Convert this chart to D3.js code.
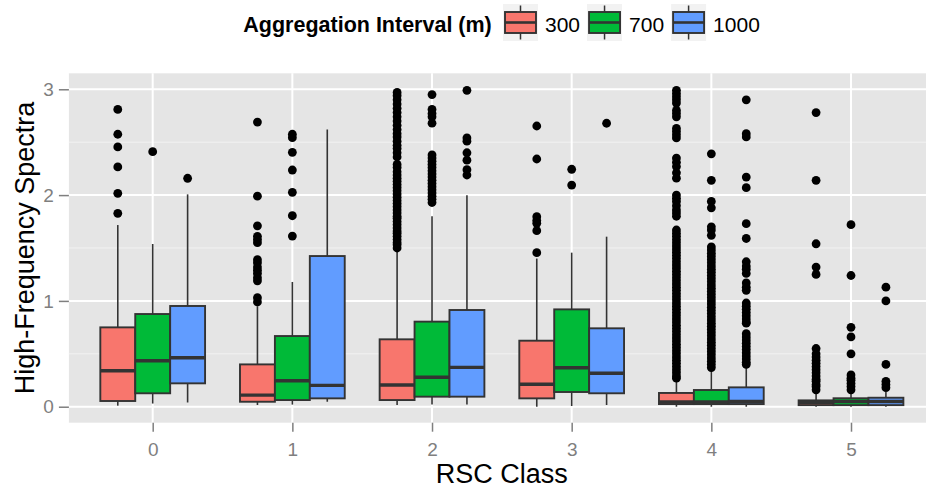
<!DOCTYPE html>
<html><head><meta charset="utf-8">
<script src="https://cdn.jsdelivr.net/npm/d3@7"></script>
<style>body{margin:0;background:#fff} svg{display:block}</style>
</head><body><svg id="chart" width="926" height="493"></svg>
<script>
const categories = ["0","1","2","3","4","5"];
const seriesNames = ["300","700","1000"];
const seriesColors = ["#F8766D","#00BA38","#619CFF"];
const yTicks = [0,1,2,3];
const legendTitle = "Aggregation Interval (m)";
const xTitle = "RSC Class";
const yTitle = "High-Frequency Spectra";

// [lower whisker, Q1, median, Q3, upper whisker] per RSC class
const box300 = [[0.01,0.054,0.34,0.75,1.717],[0.016,0.047,0.11,0.40,0.95],[0.016,0.063,0.205,0.637,1.465],[0.0,0.079,0.212,0.624,1.40],[0.0,0.025,0.045,0.13,0.26],[0.0,0.015,0.04,0.06,0.14]];
const box700 = [[0.03,0.127,0.435,0.876,1.538],[0.02,0.063,0.246,0.668,1.179],[0.02,0.095,0.278,0.804,1.80],[0.007,0.139,0.369,0.92,1.456],[0.0,0.025,0.045,0.158,0.35],[0.0,0.015,0.05,0.08,0.14]];
const box1000 = [[0.04,0.221,0.463,0.952,2.007],[0.047,0.079,0.202,1.424,2.62],[0.02,0.095,0.372,0.914,1.998],[0.016,0.127,0.316,0.741,1.607],[0.0,0.025,0.05,0.183,0.39],[0.0,0.015,0.05,0.085,0.14]];

const out300 = [
 [2.81,2.575,2.455,2.266,2.017,1.828],
 [2.69,1.99,1.71,1.61,1.58,1.55,1.39,1.36,1.32,1.29,1.26,1.22,1.19,1.03,0.99],
 [1.50,1.53,1.55,1.58,1.61,1.64,1.66,1.69,1.72,1.75,1.78,1.80,1.83,1.86,1.89,1.92,1.95,1.98,2.01,2.04,2.07,2.10,2.13,2.16,2.19,2.22,2.26,2.29,2.36,2.40,2.44,2.47,2.51,2.55,2.58,2.62,2.66,2.70,2.74,2.78,2.82,2.86,2.90,2.94,2.97],
 [2.653,2.341,1.796,1.76,1.733,1.664,1.456],
 [2.99,2.96,2.93,2.90,2.87,2.80,2.77,2.74,2.63,2.60,2.57,2.54,2.35,2.31,2.27,2.21,2.16,2.00,1.97,1.94,1.90,1.86,1.83,1.80,1.67,1.64,1.61,1.58,1.55,1.52,1.49,1.46,1.43,1.40,1.37,1.34,1.31,1.28,1.25,1.22,1.19,1.16,1.13,1.10,1.07,1.04,1.01,0.98,0.95,0.92,0.89,0.86,0.83,0.80,0.77,0.74,0.71,0.68,0.65,0.62,0.59,0.56,0.53,0.50,0.47,0.44,0.41,0.38,0.35,0.32,0.29,0.27],
 [2.78,2.14,1.54,1.32,1.25,0.55,0.50,0.47,0.44,0.41,0.38,0.35,0.32,0.29,0.26,0.24,0.21,0.19,0.16]
];
const out700 = [
 [2.41],
 [2.575,2.543,2.404,2.237,2.026,1.805,1.613],
 [2.95,2.81,2.77,2.74,2.68,2.38,2.35,2.32,2.29,2.26,2.23,2.20,2.17,2.14,2.11,2.08,2.05,2.02,1.99,1.96,1.93],
 [2.244,2.095],
 [2.39,2.14,1.94,1.88,1.70,1.67,1.62,1.51,1.48,1.45,1.42,1.39,1.36,1.33,1.30,1.27,1.24,1.21,1.18,1.15,1.12,1.09,1.06,1.03,1.00,0.97,0.94,0.91,0.88,0.85,0.82,0.79,0.76,0.73,0.70,0.67,0.64,0.61,0.58,0.55,0.52,0.49,0.46,0.43,0.40,0.37],
 [1.72,1.24,0.75,0.66,0.50,0.30,0.27,0.25,0.22,0.19,0.16]
];
const out1000 = [
 [2.159],
 [],
 [2.99,2.54,2.51,2.40,2.33,2.24,2.19],
 [2.679],
 [2.90,2.58,2.55,2.17,2.07,1.73,1.59,1.37,1.33,1.30,1.26,1.17,1.13,1.10,0.98,0.95,0.92,0.89,0.86,0.83,0.80,0.79,0.69,0.66,0.63,0.60,0.57,0.54,0.51,0.48,0.45,0.42,0.40],
 [1.13,1.00,0.40,0.24,0.21,0.18]
];

const boxes = [box300, box700, box1000];
const outs = [out300, out700, out1000];

const svg = d3.select("#chart");
const W = 926, H = 493;
const P = {left: 68.9, right: 934.8, top: 73.3, bottom: 422.7};
const FONT = "'Liberation Sans', Arial, Helvetica, sans-serif";

svg.append("rect").attr("width", W).attr("height", H).attr("fill", "#fff");

const x = d3.scalePoint().domain(categories).range([P.left, P.right]).padding(0.6);
const y = d3.scaleLinear().domain([-0.151, 3.151]).range([P.bottom, P.top]);
const groupW = x.step() * 0.75;
const dodge = d3.scaleBand().domain(seriesNames).range([-groupW/2, groupW/2]).padding(0);
const color = d3.scaleOrdinal().domain(seriesNames).range(seriesColors);

// panel
svg.append("rect").attr("x", P.left).attr("y", P.top)
  .attr("width", P.right - P.left).attr("height", P.bottom - P.top).attr("fill", "#E5E5E5");

const grid = svg.append("g");
const minorTicks = [0.5, 1.5, 2.5];
grid.selectAll("line.minor").data(minorTicks).join("line")
  .attr("x1", P.left).attr("x2", P.right)
  .attr("y1", d => y(d)).attr("y2", d => y(d))
  .attr("stroke", "#F2F2F2").attr("stroke-width", 1);
grid.selectAll("line.majy").data(yTicks).join("line")
  .attr("x1", P.left).attr("x2", P.right)
  .attr("y1", d => y(d)).attr("y2", d => y(d))
  .attr("stroke", "#fff").attr("stroke-width", 2);
grid.selectAll("line.majx").data(categories).join("line")
  .attr("y1", P.top).attr("y2", P.bottom)
  .attr("x1", d => x(d)).attr("x2", d => x(d))
  .attr("stroke", "#fff").attr("stroke-width", 2);

// boxes
const OUTLINE = "#333333";
seriesNames.forEach((s, si) => {
  const g = svg.append("g");
  const bw = dodge.bandwidth();
  categories.forEach((c, ci) => {
    const st = boxes[si][ci];
    const cx = x(c) + dodge(s) + bw/2;
    const x0 = x(c) + dodge(s);
    g.append("line").attr("x1", cx).attr("x2", cx).attr("y1", y(st[4])).attr("y2", y(st[3]))
      .attr("stroke", OUTLINE).attr("stroke-width", 1.6);
    g.append("line").attr("x1", cx).attr("x2", cx).attr("y1", y(st[1])).attr("y2", y(st[0]))
      .attr("stroke", OUTLINE).attr("stroke-width", 1.6);
    g.append("rect").attr("x", x0).attr("y", y(st[3])).attr("width", bw)
      .attr("height", y(st[1]) - y(st[3]))
      .attr("fill", color(s)).attr("stroke", OUTLINE).attr("stroke-width", 1.9);
    g.append("line").attr("x1", x0).attr("x2", x0 + bw).attr("y1", y(st[2])).attr("y2", y(st[2]))
      .attr("stroke", OUTLINE).attr("stroke-width", 3.4);
    g.selectAll(null).data(outs[si][ci]).join("circle")
      .attr("cx", cx).attr("cy", d => y(d)).attr("r", 4.4).attr("fill", "#000");
  });
});

// axes
const yAxis = svg.append("g").attr("transform", `translate(${P.left},0)`)
  .call(d3.axisLeft(y).tickValues(yTicks).tickFormat(d3.format("d")).tickSize(10).tickPadding(5));
const xAxis = svg.append("g").attr("transform", `translate(0,${P.bottom})`)
  .call(d3.axisBottom(x).tickSize(9).tickPadding(10.5));
[yAxis, xAxis].forEach(a => {
  a.select(".domain").remove();
  a.selectAll(".tick line").attr("stroke", "#7F7F7F").attr("stroke-width", 1.5);
  a.selectAll(".tick text").attr("fill", "#7F7F7F").attr("font-family", FONT).attr("font-size", 19);
});

// axis titles
svg.append("text").attr("x", (P.left + P.right)/2).attr("y", 483.3)
  .attr("text-anchor", "middle").attr("font-family", FONT).attr("font-size", 27).attr("fill", "#000")
  .text(xTitle);
svg.append("text").attr("transform", `translate(34,${(P.top + P.bottom)/2}) rotate(-90)`)
  .attr("text-anchor", "middle").attr("font-family", FONT).attr("font-size", 27).attr("fill", "#000")
  .text(yTitle);

// legend
const leg = svg.append("g");
leg.append("text").attr("x", 243.3).attr("y", 31.5)
  .attr("font-family", FONT).attr("font-weight", "bold").attr("font-size", 21.5).attr("fill", "#000")
  .text(legendTitle);
let cursor = 503;
const keyW = 35, keyTop = 4, keyH = 37;
seriesNames.forEach((s, si) => {
  const kg = leg.append("g");
  kg.append("rect").attr("x", cursor).attr("y", keyTop).attr("width", keyW).attr("height", keyH).attr("fill", "#F2F2F2");
  const cx = cursor + keyW/2;
  kg.append("line").attr("x1", cx).attr("x2", cx).attr("y1", 5.5).attr("y2", 12).attr("stroke", OUTLINE).attr("stroke-width", 1.5);
  kg.append("line").attr("x1", cx).attr("x2", cx).attr("y1", 33).attr("y2", 39.5).attr("stroke", OUTLINE).attr("stroke-width", 1.5);
  kg.append("rect").attr("x", cursor + 2).attr("y", 12).attr("width", keyW - 4).attr("height", 21)
    .attr("fill", color(s)).attr("stroke", OUTLINE).attr("stroke-width", 1.9);
  kg.append("line").attr("x1", cursor + 2).attr("x2", cursor + keyW - 2).attr("y1", 22.5).attr("y2", 22.5)
    .attr("stroke", OUTLINE).attr("stroke-width", 2.6);
  const t = kg.append("text").attr("x", cursor + keyW + 7).attr("y", 31.5)
    .attr("font-family", FONT).attr("font-size", 21).attr("fill", "#000").text(s);
  cursor = cursor + keyW + 7 + t.node().getComputedTextLength() + 7;
});
</script></body></html>
